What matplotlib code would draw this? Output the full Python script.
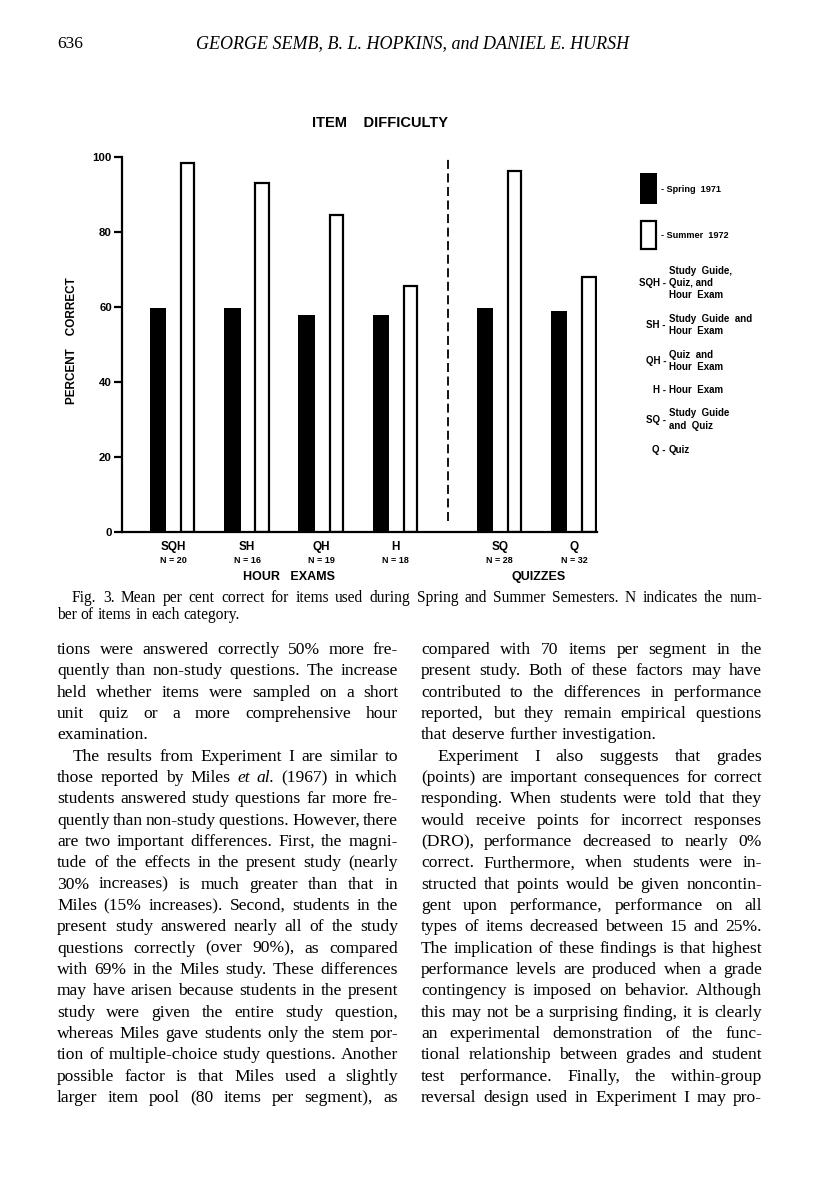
import numpy as np
import matplotlib
matplotlib.use("Agg")
import matplotlib.pyplot as plt
from matplotlib.patches import Rectangle

# Item difficulty data
categories = ["SQH", "SH", "QH", "H", "SQ", "Q"]
n_items = ["N = 20", "N = 16", "N = 19", "N = 18", "N = 28", "N = 32"]
spring_1971 = [59.7, 59.7, 57.9, 57.9, 59.7, 59.0]
summer_1972 = [98.3, 93.0, 84.6, 65.6, 96.1, 68.0]
yticks = [0, 20, 40, 60, 80, 100]

abbrevs = [
    ("SQH -", ["Study  Guide,", "Quiz, and", "Hour  Exam"]),
    ("SH -", ["Study  Guide  and", "Hour  Exam"]),
    ("QH -", ["Quiz  and", "Hour  Exam"]),
    ("H -", ["Hour  Exam"]),
    ("SQ -", ["Study  Guide", "and  Quiz"]),
    ("Q -", ["Quiz"]),
]

header_page = "636"
header_authors = "GEORGE SEMB, B. L. HOPKINS, and DANIEL E. HURSH"
caption_lines = [
    "Fig. 3. Mean per cent correct for items used during Spring and Summer Semesters. N indicates the num-",
    "ber of items in each category.",
]

left_col = [
    "tions were answered correctly 50% more fre-",
    "quently than non-study questions. The increase",
    "held whether items were sampled on a short",
    "unit quiz or a more comprehensive hour",
    "examination.|",
    ">The results from Experiment I are similar to",
    "those reported by Miles *et* *al.* (1967) in which",
    "students answered study questions far more fre-",
    "quently than non-study questions. However, there",
    "are two important differences. First, the magni-",
    "tude of the effects in the present study (nearly",
    "30% increases) is much greater than that in",
    "Miles (15% increases). Second, students in the",
    "present study answered nearly all of the study",
    "questions correctly (over 90%), as compared",
    "with 69% in the Miles study. These differences",
    "may have arisen because students in the present",
    "study were given the entire study question,",
    "whereas Miles gave students only the stem por-",
    "tion of multiple-choice study questions. Another",
    "possible factor is that Miles used a slightly",
    "larger item pool (80 items per segment), as",
]
right_col = [
    "compared with 70 items per segment in the",
    "present study. Both of these factors may have",
    "contributed to the differences in performance",
    "reported, but they remain empirical questions",
    "that deserve further investigation.|",
    ">Experiment I also suggests that grades",
    "(points) are important consequences for correct",
    "responding. When students were told that they",
    "would receive points for incorrect responses",
    "(DRO), performance decreased to nearly 0%",
    "correct. Furthermore, when students were in-",
    "structed that points would be given noncontin-",
    "gent upon performance, performance on all",
    "types of items decreased between 15 and 25%.",
    "The implication of these findings is that highest",
    "performance levels are produced when a grade",
    "contingency is imposed on behavior. Although",
    "this may not be a surprising finding, it is clearly",
    "an experimental demonstration of the func-",
    "tional relationship between grades and student",
    "test performance. Finally, the within-group",
    "reversal design used in Experiment I may pro-",
]

W, H = 816, 1195
fig = plt.figure(figsize=(W / 100, H / 100), dpi=100)
fig.patch.set_facecolor("white")


def fx(x):
    return x / W


def fy(y):
    return 1 - y / H


SANS = "Liberation Sans"
SERIF = "Liberation Serif"

# ---- chart ----
ax_l, ax_r, ax_t, ax_b = 121.7, 597.0, 156.7, 532.3
ax = fig.add_axes([fx(ax_l), fy(ax_b), fx(ax_r - ax_l), (ax_b - ax_t) / H])
pos = np.array([0, 1, 2, 3, 4.4, 5.4])
ax.bar(pos - 0.2, spring_1971, width=0.225, color="black", edgecolor="black", linewidth=0)
ax.bar(pos + 0.2, summer_1972, width=0.18, color="white", edgecolor="black", linewidth=1.6)
ax.axvline(3.7, ymin=0.03, ymax=1.0, color="black", linestyle=(0, (5, 2.5)), linewidth=1.3)
ax.set_xlim(-0.69, 5.71)
ax.set_ylim(0, 100)
for s in ["top", "right"]:
    ax.spines[s].set_visible(False)
for s in ["left", "bottom"]:
    ax.spines[s].set_linewidth(1.6)
ax.set_xticks([])
ax.set_yticks(yticks)
ax.set_yticklabels([str(v) for v in yticks], fontfamily=SANS, fontweight="bold", fontsize=8.2)
ax.tick_params(axis="y", direction="out", length=6, width=1.6, pad=1)
ax.set_facecolor("white")

# category labels below the axis
for p, c, n in zip(pos, categories, n_items):
    ax.text(p, -3.8, c, ha="center", va="center", fontfamily=SANS, fontweight="bold",
            fontsize=8.5, transform=ax.transData, clip_on=False)
    ax.text(p, -7.4, n, ha="center", va="center", fontfamily=SANS, fontweight="bold",
            fontsize=6.5, transform=ax.transData, clip_on=False)

fig.text(fx(289), fy(577), "HOUR   EXAMS", ha="center", va="center", fontfamily=SANS,
         fontweight="bold", fontsize=9)
fig.text(fx(539), fy(577), "QUIZZES", ha="center", va="center", fontfamily=SANS,
         fontweight="bold", fontsize=9)
fig.text(fx(380), fy(123), "ITEM    DIFFICULTY", ha="center", va="center", fontfamily=SANS,
         fontweight="bold", fontsize=10.5)
fig.text(fx(72), fy(341), "PERCENT    CORRECT", ha="center", va="center", rotation=90,
         fontfamily=SANS, fontweight="bold", fontsize=8.5)

# legend boxes
fig.add_artist(Rectangle((fx(640), fy(204)), fx(17), (204 - 173) / H, facecolor="black",
                         edgecolor="black", linewidth=0, transform=fig.transFigure))
fig.add_artist(Rectangle((fx(641), fy(249)), fx(15), (249 - 221) / H, facecolor="white",
                         edgecolor="black", linewidth=1.6, transform=fig.transFigure))
fig.text(fx(661), fy(189), "- Spring  1971", ha="left", va="center", fontfamily=SANS,
         fontweight="bold", fontsize=6.6)
fig.text(fx(661), fy(235), "- Summer  1972", ha="left", va="center", fontfamily=SANS,
         fontweight="bold", fontsize=6.6)

abbr_y = [283, 325, 361, 390, 420, 450]
for (key, lines), yc in zip(abbrevs, abbr_y):
    fig.text(fx(666), fy(yc), key, ha="right", va="center", fontfamily=SANS,
             fontweight="bold", fontsize=7)
    step = 12.3
    y0 = yc - step * (len(lines) - 1) / 2
    if len(lines) == 2:
        y0 = yc - 6.5
    for i, ln in enumerate(lines):
        fig.text(fx(669), fy(y0 + i * step), ln, ha="left", va="center", fontfamily=SANS,
                 fontweight="bold", fontsize=7)

# ---- page text ----
renderer = fig.canvas.get_renderer()


def word_width(t):
    return t.get_window_extent(renderer).width


def set_line(raw, x0, x1, y, size, justify=True):
    indent = 0
    if raw.startswith(">"):
        raw = raw[1:]
        indent = 16
    if raw.endswith("|"):
        raw = raw[:-1]
        justify = False
    words = raw.split()
    objs = []
    for w in words:
        style = "normal"
        if w.startswith("*") and w.endswith("*"):
            w = w.strip("*")
            style = "italic"
        t = fig.text(0, fy(y), w, ha="left", va="baseline", fontfamily=SERIF,
                     fontsize=size, fontstyle=style)
        objs.append(t)
    widths = [word_width(t) for t in objs]
    space = size * 100 / 72 * 0.25
    if justify and len(objs) > 1:
        gap = (x1 - x0 - indent - sum(widths)) / (len(objs) - 1)
        gap = max(gap, 2.5)
    else:
        gap = space
    x = x0 + indent
    for t, w in zip(objs, widths):
        t.set_x(fx(x))
        x += w + gap


fig.text(fx(57), fy(48), header_page, ha="left", va="baseline", fontfamily=SERIF, fontsize=12.5)
fig.text(fx(196), fy(48), header_authors, ha="left", va="baseline", fontfamily=SERIF,
         fontsize=13, fontstyle="italic")

set_line(caption_lines[0], 72, 762, 602, 11.2, justify=True)
set_line(caption_lines[1], 57, 762, 619, 11.2, justify=False)

line_gap = 21.33
for i, ln in enumerate(left_col):
    set_line(ln, 57, 398, 654 + i * line_gap, 12.6)
for i, ln in enumerate(right_col):
    set_line(ln, 421, 762, 654 + i * line_gap, 12.6)

fig.savefig("out.png", dpi=100, facecolor="white")
